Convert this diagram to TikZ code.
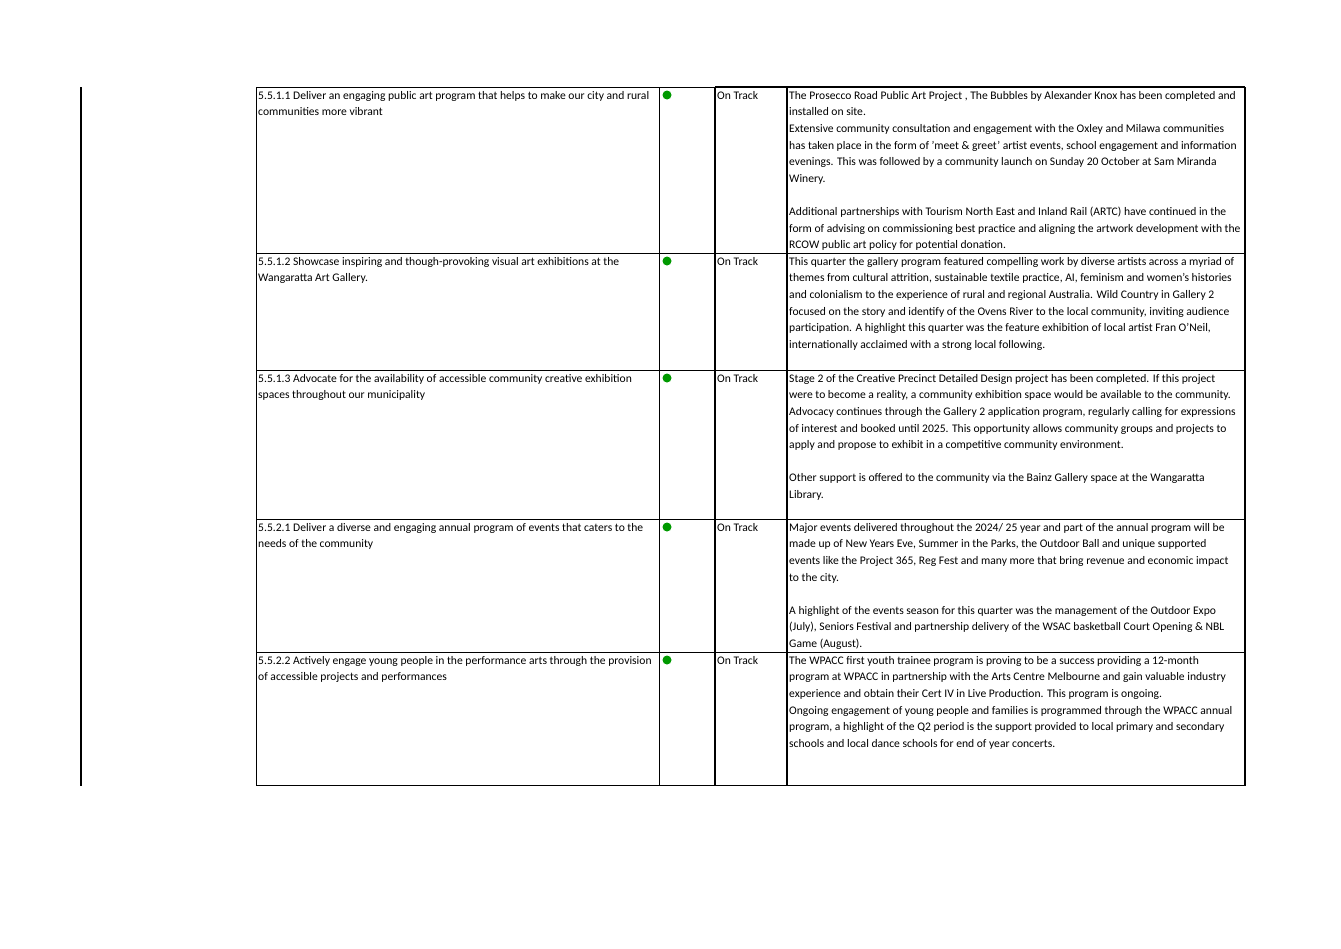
\documentclass[tikz,border=0pt]{standalone}
\usepackage{fontspec}
\setmainfont{Carlito}
\tikzset{
  celltext/.style={anchor=north west,inner sep=0pt,align=left,font=\fontsize{11.6}{16.6}\selectfont},
  statusdot/.style={circle,fill=green!60!black,draw=none,minimum size=9pt,inner sep=0pt},
  thinrule/.style={line width=1pt},
  thickrule/.style={line width=1.6pt}
}
\begin{document}
\begin{tikzpicture}[x=1pt,y=-1pt]
\useasboundingbox (0,0) rectangle (1341,948);
%\draw[step=50,gray,very thin] (0,0) grid (1341,948); %background grid
\draw[thickrule] (81,87)--(81,786);
% grid of the table
\draw[thinrule] (256,87) rectangle (1245,785);
\draw[thinrule] (659,87)--(659,785);
\draw[thickrule] (715,87)--(715,785);
\draw[thickrule] (787,87)--(787,785);
\draw[thickrule] (1245,87)--(1245,785);
\draw[thickrule] (715,87)--(1245,87);
\foreach \y in {253,370,519,652} {
  \draw[thinrule] (256,\y)--(1245,\y);
}
% row 1
\node[celltext] (goal1) at (258,91) {5.5.1.1 Deliver an engaging public art program that helps to make our city and rural\\communities more vibrant};
\node[statusdot] (dot1) at (667,95) {};
\node[celltext] (stat1) at (717,91) {On Track};
\node[celltext] (note1) at (789,91) {The Prosecco Road Public Art Project , The Bubbles by Alexander Knox has been completed and\\installed on site.\\Extensive community consultation and engagement with the Oxley and Milawa communities\\has taken place in the form of 'meet \& greet' artist events, school engagement and information\\evenings. This was followed by a community launch on Sunday 20 October at Sam Miranda\\Winery.\\[16.6pt]Additional partnerships with Tourism North East and Inland Rail (ARTC) have continued in the\\form of advising on commissioning best practice and aligning the artwork development with the\\RCOW public art policy for potential donation.};
% row 2
\node[celltext] (goal2) at (258,257) {5.5.1.2 Showcase inspiring and though-provoking visual art exhibitions at the\\Wangaratta Art Gallery.};
\node[statusdot] (dot2) at (667,261) {};
\node[celltext] (stat2) at (717,257) {On Track};
\node[celltext] (note2) at (789,257) {This quarter the gallery program featured compelling work by diverse artists across a myriad of\\themes from cultural attrition, sustainable textile practice, AI, feminism and women's histories\\and colonialism to the experience of rural and regional Australia. Wild Country in Gallery 2\\focused on the story and identify of the Ovens River to the local community, inviting audience\\participation. A highlight this quarter was the feature exhibition of local artist Fran O'Neil,\\internationally acclaimed with a strong local following.};
% row 3
\node[celltext] (goal3) at (258,374) {5.5.1.3 Advocate for the availability of accessible community creative exhibition\\spaces throughout our municipality};
\node[statusdot] (dot3) at (667,378) {};
\node[celltext] (stat3) at (717,374) {On Track};
\node[celltext] (note3) at (789,374) {Stage 2 of the Creative Precinct Detailed Design project has been completed. If this project\\were to become a reality, a community exhibition space would be available to the community.\\Advocacy continues through the Gallery 2 application program, regularly calling for expressions\\of interest and booked until 2025. This opportunity allows community groups and projects to\\apply and propose to exhibit in a competitive community environment.\\[16.6pt]Other support is offered to the community via the Bainz Gallery space at the Wangaratta\\Library.};
% row 4
\node[celltext] (goal4) at (258,523) {5.5.2.1 Deliver a diverse and engaging annual program of events that caters to the\\needs of the community};
\node[statusdot] (dot4) at (667,527) {};
\node[celltext] (stat4) at (717,523) {On Track};
\node[celltext] (note4) at (789,523) {Major events delivered throughout the 2024/ 25 year and part of the annual program will be\\made up of New Years Eve, Summer in the Parks, the Outdoor Ball and unique supported\\events like the Project 365, Reg Fest and many more that bring revenue and economic impact\\to the city.\\[16.6pt]A highlight of the events season for this quarter was the management of the Outdoor Expo\\(July), Seniors Festival and partnership delivery of the WSAC basketball Court Opening \& NBL\\Game (August).};
% row 5
\node[celltext] (goal5) at (258,656) {5.5.2.2 Actively engage young people in the performance arts through the provision\\of accessible projects and performances};
\node[statusdot] (dot5) at (667,660) {};
\node[celltext] (stat5) at (717,656) {On Track};
\node[celltext] (note5) at (789,656) {The WPACC first youth trainee program is proving to be a success providing a 12-month\\program at WPACC in partnership with the Arts Centre Melbourne and gain valuable industry\\experience and obtain their Cert IV in Live Production. This program is ongoing.\\Ongoing engagement of young people and families is programmed through the WPACC annual\\program, a highlight of the Q2 period is the support provided to local primary and secondary\\schools and local dance schools for end of year concerts.};
\end{tikzpicture}
\end{document}
